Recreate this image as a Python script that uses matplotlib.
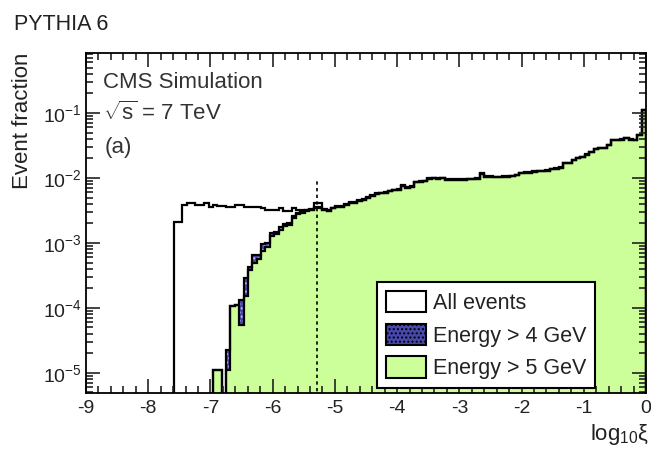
import numpy as np
import matplotlib
matplotlib.use("Agg")
import matplotlib.pyplot as plt
from matplotlib.patches import Patch
from matplotlib.ticker import MultipleLocator, LogLocator, NullFormatter

plt.rcParams['font.family'] = ['Liberation Sans', 'DejaVu Sans']
plt.rcParams['mathtext.fontset'] = 'custom'
plt.rcParams['mathtext.rm'] = 'Liberation Sans'
plt.rcParams['mathtext.it'] = 'Liberation Sans:italic'
plt.rcParams['axes.unicode_minus'] = False

# log10(xi) binning: 128 bins from -9 to 0
edges = np.linspace(-9, 0, 129)
xi_cut = -5.29

# all events, per bin
all_low = [0] * 20 + [
    2.1e-3, 2.1e-3, 3.85e-3, 4.07e-3, 4.07e-3, 3.85e-3, 3.85e-3, 4.07e-3, 3.6e-3, 3.85e-3,
    3.75e-3, 3.75e-3, 3.6e-3, 3.6e-3, 3.85e-3, 3.85e-3, 3.6e-3, 3.6e-3, 3.6e-3, 3.55e-3,
    3.4e-3, 3.2e-3, 3.25e-3, 3.25e-3, 3.4e-3, 3.1e-3, 3.1e-3, 3.4e-3, 3.2e-3, 3.2e-3,
    3.2e-3, 3.25e-3, 4.1e-3, 4.1e-3, 3.3e-3, 3.2e-3]
all_high = [
    3.5e-3, 3.7e-3, 3.7e-3, 4.0e-3, 4.2e-3, 4.2e-3, 4.6e-3, 4.7e-3, 5.1e-3, 5.4e-3,
    5.8e-3, 5.9e-3, 6.0e-3, 6.4e-3, 6.6e-3, 6.8e-3, 7.8e-3, 7.2e-3, 7.4e-3, 8.8e-3,
    8.9e-3, 9.1e-3, 9.9e-3, 1.01e-2, 1.0e-2, 1.01e-2, 9.6e-3, 9.6e-3, 9.5e-3, 9.6e-3,
    9.5e-3, 9.7e-3, 9.8e-3, 9.9e-3, 1.18e-2, 1.06e-2, 1.06e-2, 1.05e-2, 1.05e-2, 1.06e-2,
    1.07e-2, 1.08e-2, 1.12e-2, 1.2e-2, 1.22e-2, 1.22e-2, 1.27e-2, 1.29e-2, 1.3e-2, 1.32e-2,
    1.4e-2, 1.42e-2, 1.47e-2, 1.7e-2, 1.72e-2, 1.92e-2, 2.02e-2, 2.12e-2, 2.32e-2, 2.52e-2,
    2.82e-2, 2.92e-2, 2.92e-2, 3.22e-2, 3.82e-2, 3.82e-2, 3.92e-2, 4.12e-2, 3.92e-2, 3.82e-2,
    4.62e-2, 0.111]

# energy > 5 GeV
e5_low = [0] * 29 + [
    1.1e-5, 1.1e-5, 0, 1.1e-5, 1.07e-4, 1.1e-4, 5.5e-5, 1.5e-4, 3.9e-4, 4.9e-4,
    5.6e-4, 7.5e-4, 8.8e-4, 1.3e-3, 1.35e-3, 1.6e-3, 1.85e-3, 1.9e-3, 2.45e-3, 2.75e-3,
    2.85e-3, 3.05e-3, 3.2e-3, 3.5e-3, 3.5e-3, 3.2e-3, 3.1e-3]
e5_high = [
    3.4e-3, 3.6e-3, 3.6e-3, 3.9e-3, 4.1e-3, 4.1e-3, 4.5e-3, 4.6e-3, 5.0e-3, 5.3e-3,
    5.7e-3, 5.8e-3, 5.9e-3, 6.3e-3, 6.5e-3, 6.6e-3, 7.6e-3, 7.0e-3, 7.2e-3, 8.6e-3,
    8.7e-3, 8.9e-3, 9.7e-3, 9.9e-3, 9.8e-3, 9.9e-3, 9.3e-3, 9.3e-3, 9.2e-3, 9.3e-3,
    9.2e-3, 9.5e-3, 9.6e-3, 9.7e-3, 1.16e-2, 1.04e-2, 1.04e-2, 1.03e-2, 1.03e-2, 1.04e-2,
    1.05e-2, 1.06e-2, 1.1e-2, 1.18e-2, 1.2e-2, 1.2e-2, 1.25e-2, 1.27e-2, 1.28e-2, 1.3e-2,
    1.38e-2, 1.4e-2, 1.45e-2, 1.68e-2, 1.7e-2, 1.9e-2, 2.0e-2, 2.1e-2, 2.3e-2, 2.5e-2,
    2.8e-2, 2.9e-2, 2.9e-2, 3.2e-2, 3.8e-2, 3.8e-2, 3.9e-2, 4.1e-2, 3.9e-2, 3.8e-2,
    4.6e-2, 0.11]

# energy > 4 GeV (same as > 5 GeV above the cut region)
e4_low = [0] * 29 + [
    1.1e-5, 1.1e-5, 0, 2.26e-5, 1.07e-4, 1.1e-4, 1.33e-4, 2.9e-4, 4.3e-4, 6.5e-4,
    6.6e-4, 9.5e-4, 1.0e-3, 1.43e-3, 1.5e-3, 1.77e-3, 1.96e-3, 2.0e-3, 2.6e-3, 2.9e-3,
    2.95e-3, 3.2e-3, 3.3e-3, 3.6e-3, 3.6e-3, 3.25e-3, 3.15e-3]

all_events = np.array(all_low + all_high)
e5 = np.array(e5_low + e5_high)
e4 = np.array(e4_low + e5_high)
assert len(all_events) == len(e5) == len(e4) == len(edges) - 1

floor = 1e-8
def pos(v):
    return np.where(v > 0, v, floor)

green = '#ccff99'
blue = '#4848b0'
fig = plt.figure(figsize=(6.51, 4.49), dpi=100)
ax = fig.add_axes([86 / 651, 56 / 449, 560 / 651, 340 / 449])
ax.set_yscale('log')

ax.stairs(pos(e4), edges, baseline=floor, fill=True, facecolor=blue,
          edgecolor='#c0c0f0', hatch='....', linewidth=0)
ax.stairs(pos(e5), edges, baseline=floor, fill=True, facecolor=green, linewidth=0)
ax.stairs(pos(e4), edges, baseline=floor, color='k', lw=1.6)
ax.stairs(pos(e5), edges, baseline=floor, color='k', lw=1.6)
ax.stairs(pos(all_events), edges, baseline=floor, color='k', lw=1.6)

ax.plot([xi_cut, xi_cut], [1e-6, 9.7e-3], color='k', ls=(0, (2, 2)), lw=1.2)

ax.set_xlim(-9, 0)
ax.set_ylim(4.9e-6, 0.84)
ax.xaxis.set_major_locator(MultipleLocator(1))
ax.xaxis.set_minor_locator(MultipleLocator(0.2))
ax.yaxis.set_major_locator(LogLocator(base=10, numticks=20))
ax.yaxis.set_minor_locator(LogLocator(base=10, subs=np.arange(2, 10), numticks=20))
ax.yaxis.set_minor_formatter(NullFormatter())
ax.tick_params(which='both', direction='in', top=True, right=True, width=1.2,
               labelsize=14, colors='#222222')
ax.tick_params(which='major', length=10)
ax.tick_params(which='minor', length=5)
ax.tick_params(axis='x', pad=5)
ax.tick_params(axis='y', pad=3)
for s in ax.spines.values():
    s.set_linewidth(1.3)

ax.set_ylabel('Event fraction', fontsize=16, loc='top', color='#222222')
ax.yaxis.set_label_coords(-0.095, 1.0)
ax.set_xlabel('log$_{10}$ξ', fontsize=16, loc='right', color='#222222')
ax.xaxis.set_label_coords(1.005, -0.085)

fig.text(14 / 651, 1 - 25 / 449, 'PYTHIA 6', fontsize=15.5, va='center', color='#222222')
fig.text(103 / 651, 1 - 83 / 449, 'CMS Simulation', fontsize=16, va='center', color='#333333')
fig.text(103 / 651, 1 - 113 / 449, r'$\sqrt{\mathrm{s}}$ = 7 TeV', fontsize=16, va='center', color='#333333')
fig.text(105 / 651, 1 - 147 / 449, '(a)', fontsize=16, va='center', color='#333333')

handles = [
    Patch(facecolor='white', edgecolor='k', lw=1.5, label='All events'),
    Patch(facecolor=blue, edgecolor='k', lw=1.5, hatch='....', label='Energy > 4 GeV'),
    Patch(facecolor=green, edgecolor='k', lw=1.5, label='Energy > 5 GeV'),
]
leg = ax.legend(handles=handles, loc='lower left', bbox_to_anchor=(0.52, 0.015),
                fontsize=15.5, frameon=True, fancybox=False, framealpha=1,
                edgecolor='k', handlelength=1.86, handleheight=1.15,
                handletextpad=0.35, labelspacing=0.45, borderpad=0.4,
                borderaxespad=0)
leg.get_frame().set_linewidth(1.5)
for t in leg.get_texts():
    t.set_color('#222222')

fig.savefig('out.png', dpi=100)
